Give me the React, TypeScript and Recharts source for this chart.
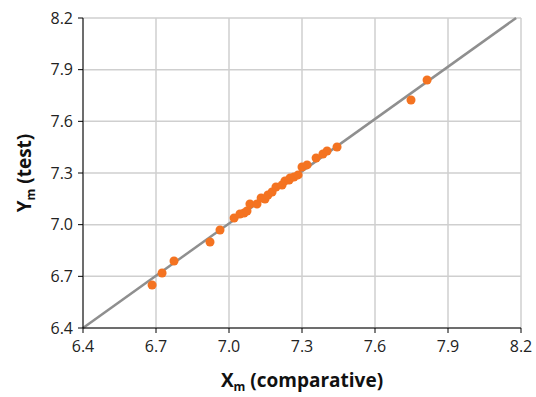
import {
    ScatterChart,
    Scatter,
    XAxis,
    YAxis,
    ZAxis,
    CartesianGrid,
    ReferenceLine,
} from "recharts";

// measured points (X_m comparative, Y_m test)
const xValues = [
    6.684, 6.725, 6.774, 6.922, 6.963, 7.021, 7.045, 7.062, 7.074, 7.086,
    7.115, 7.132, 7.148, 7.16, 7.177, 7.193, 7.218, 7.23, 7.247, 7.251,
    7.267, 7.284, 7.3, 7.321, 7.358, 7.386, 7.403, 7.444, 7.748, 7.814,
];
const yValues = [
    6.65, 6.719, 6.789, 6.899, 6.969, 7.039, 7.062, 7.068, 7.079, 7.12,
    7.12, 7.155, 7.149, 7.172, 7.19, 7.219, 7.23, 7.254, 7.259, 7.271,
    7.277, 7.289, 7.335, 7.347, 7.387, 7.41, 7.428, 7.451, 7.724, 7.84,
];
const ticks = [6.4, 6.7, 7.0, 7.3, 7.6, 7.9, 8.2];
const fitLine = [
    { x: 6.4, y: 6.4 },
    { x: 8.18, y: 8.2 },
];

const points = xValues.map((x, i) => ({ x, y: yValues[i] }));

const FONT = "'Open Sans', 'Noto Sans', sans-serif";

function XTitle(props: any) {
    const vb = props.viewBox;
    return (
        <text
            x={vb.x + vb.width / 2}
            y={vb.y + 59}
            textAnchor="middle"
            fontFamily={FONT}
            fontWeight="bold"
            fontSize={19}
            fill="#111"
        >
            X<tspan fontSize={12} dy={4}>m</tspan>
            <tspan dy={-4}> (comparative)</tspan>
        </text>
    );
}

function YTitle(props: any) {
    const vb = props.viewBox;
    const cx = 31;
    const cy = vb.y + vb.height / 2;
    return (
        <text
            x={cx}
            y={cy}
            transform={`rotate(-90, ${cx}, ${cy})`}
            textAnchor="middle"
            fontFamily={FONT}
            fontWeight="bold"
            fontSize={19}
            fill="#111"
        >
            Y<tspan fontSize={12} dy={4}>m</tspan>
            <tspan dy={-4}> (test)</tspan>
        </text>
    );
}

export default function App() {
    return (
        <div style={{ width: 536, height: 397, background: "#fff" }}>
            <style>{`body{margin:0}`}</style>
            <ScatterChart
                width={536}
                height={397}
                margin={{ top: 18, right: 15, bottom: 0, left: 0 }}
            >
                <CartesianGrid stroke="#cfcfcf" strokeWidth={1.5} />
                <XAxis
                    type="number"
                    dataKey="x"
                    domain={[6.4, 8.2]}
                    ticks={ticks}
                    tickFormatter={(v: number) => v.toFixed(1)}
                    height={69}
                    axisLine={{ stroke: "#000" }}
                    tickLine={{ stroke: "#000" }}
                    tickSize={5}
                    tick={{ fill: "#222", fontSize: 16, fontFamily: FONT, dy: 6 }}
                    label={<XTitle />}
                    allowDataOverflow
                />
                <YAxis
                    type="number"
                    dataKey="y"
                    domain={[6.4, 8.2]}
                    ticks={ticks}
                    tickFormatter={(v: number) => v.toFixed(1)}
                    width={83}
                    axisLine={{ stroke: "#000" }}
                    tickLine={{ stroke: "#000" }}
                    tickSize={5}
                    tick={{ fill: "#222", fontSize: 16, fontFamily: FONT, dx: -3 }}
                    label={<YTitle />}
                    allowDataOverflow
                />
                <ZAxis range={[115, 115]} />
                <ReferenceLine
                    segment={fitLine}
                    stroke="#8f8f8f"
                    strokeWidth={2.5}
                />
                <Scatter
                    data={points}
                    fill="#f47321"
                    isAnimationActive={false}
                />
            </ScatterChart>
        </div>
    );
}
